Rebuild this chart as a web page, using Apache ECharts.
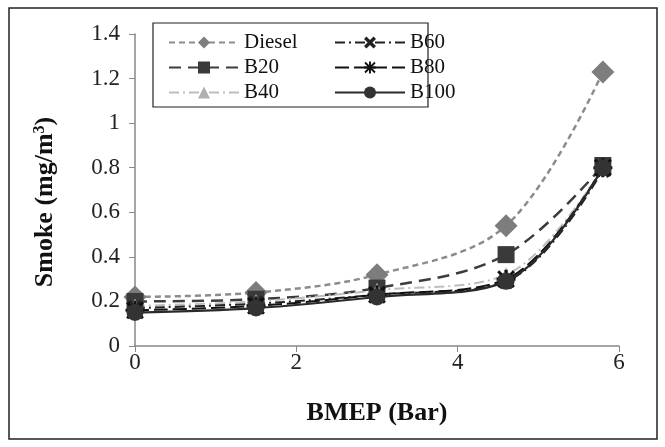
<!DOCTYPE html>
<html><head><meta charset="utf-8">
<script src="https://cdn.jsdelivr.net/npm/echarts@6/dist/echarts.min.js"></script>
<style>html,body{margin:0;padding:0;background:#fff}#c{width:665px;height:447px}</style>
</head><body><div id="c"></div>
<script>
const bmep = [0, 1.5, 3, 4.6, 5.8];
const diesel = [0.22, 0.24, 0.32, 0.54, 1.23];
const b20 = [0.20, 0.21, 0.26, 0.41, 0.81];
const b40 = [0.18, 0.20, 0.25, 0.32, 0.80];
const b60 = [0.17, 0.19, 0.23, 0.29, 0.79];
const b80 = [0.16, 0.18, 0.23, 0.30, 0.80];
const b100 = [0.15, 0.17, 0.22, 0.29, 0.80];
const seriesNames = ['Diesel', 'B20', 'B40', 'B60', 'B80', 'B100'];

const xPath = 'path://M0,2 L2,0 L5,3 L8,0 L10,2 L7,5 L10,8 L8,10 L5,7 L2,10 L0,8 L3,5 Z';
const starPath = 'path://M4.2,0 L5.8,0 L5.8,10 L4.2,10 Z M0,4.2 L10,4.2 L10,5.8 L0,5.8 Z M0.3,1.4 L1.4,0.3 L9.7,8.6 L8.6,9.7 Z M8.6,0.3 L9.7,1.4 L1.4,9.7 L0.3,8.6 Z';

const F = '"Liberation Serif", "Times New Roman", serif';
function pts(v){ return bmep.map((x,i)=>[x, v[i]]); }
function mk(name, vals, color, mcolor, type, symbol, size, width){
  return {name, type:'line', smooth:0.35, data: pts(vals), symbol, symbolSize:size,
    lineStyle:{color, type, width}, itemStyle:{color:mcolor}, z: 2};
}
const chart = echarts.init(document.getElementById('c'));
chart.setOption({
  animation:false,
  backgroundColor:'#fff',
  graphic:[
    {type:'rect', shape:{x:9, y:8, width:648, height:431}, style:{fill:'none', stroke:'#222', lineWidth:1.5}},
    {type:'rect', shape:{x:153, y:23, width:275, height:84}, style:{fill:'#fff', stroke:'#222', lineWidth:1.2}, z:5}
  ],
  grid:{left:135, right:46, top:34, bottom:101},
  xAxis:{type:'value', min:0, max:6, interval:2,
    name:'BMEP (Bar)', nameLocation:'middle', nameGap:54,
    nameTextStyle:{fontFamily:F, fontWeight:'bold', fontSize:26, color:'#111'},
    axisLine:{show:true, lineStyle:{color:'#888', width:1.5}},
    axisTick:{show:true, length:6, lineStyle:{color:'#888'}},
    axisLabel:{fontFamily:F, fontSize:23, color:'#222', margin:5},
    splitLine:{show:false}},
  yAxis:{type:'value', min:0, max:1.4, interval:0.2,
    name:'Smoke (mg/m{s|3})', nameLocation:'middle', nameGap:77, nameRotate:90,
    nameTextStyle:{fontFamily:F, fontWeight:'bold', fontSize:26, color:'#111', padding:[0,24,0,0],
      rich:{s:{fontFamily:F, fontWeight:'bold', fontSize:16, verticalAlign:'top', color:'#111', padding:[0,0,10,0]}}},
    axisLine:{show:true, lineStyle:{color:'#888', width:1.5}},
    axisTick:{show:true, length:6, lineStyle:{color:'#888'}},
    axisLabel:{fontFamily:F, fontSize:23, color:'#222', margin:15},
    splitLine:{show:false}},
  legend:[
    {data:['Diesel','B20','B40'], orient:'vertical', left:163, top:27, itemWidth:70, itemHeight:15, itemGap:4,
      textStyle:{fontFamily:F, fontSize:21, color:'#111'}, z:6},
    {data:['B60','B80','B100'], orient:'vertical', left:329, top:27, itemWidth:70, itemHeight:15, itemGap:4,
      textStyle:{fontFamily:F, fontSize:21, color:'#111'}, z:6}
  ],
  series:[
    mk('Diesel', diesel, '#8c8c8c', '#7d7d7d', [6,4], 'diamond', 23, 2.5),
    mk('B20', b20, '#3c3c3c', '#3a3a3a', [12,7], 'rect', 17, 2.5),
    mk('B40', b40, '#bdbdbd', '#b0b0b0', [10,4,2,4], 'triangle', 15, 2),
    mk('B60', b60, '#222', '#222', [10,4,2,4], xPath, 16, 2),
    mk('B80', b80, '#111', '#111', [14,5], starPath, 19, 2),
    mk('B100', b100, '#2a2a2a', '#333', 'solid', 'circle', 17, 2.2)
  ]
});
</script></body></html>
